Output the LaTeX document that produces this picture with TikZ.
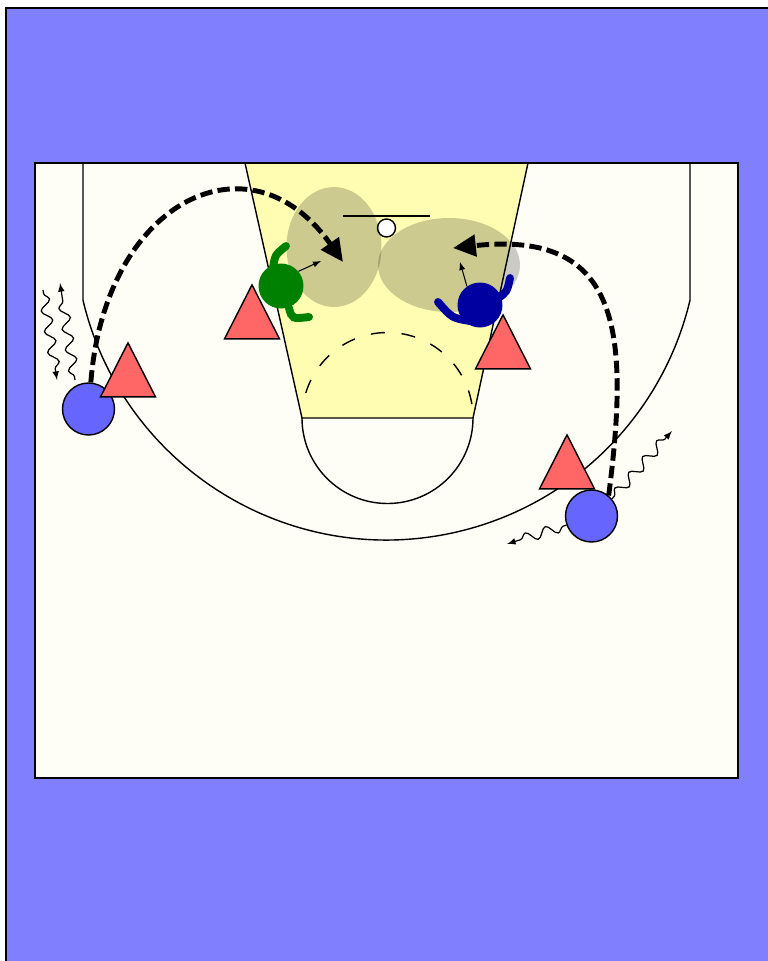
\documentclass[tikz,border=0pt]{standalone}
\usepackage{tikz}
\usetikzlibrary{positioning, arrows, arrows.meta, shapes, decorations.pathmorphing}

\definecolor{floorBlue}{HTML}{8080FF}
\definecolor{courtWhite}{HTML}{FEFEF7}
\definecolor{laneYellow}{HTML}{FFFDB2}
\definecolor{offBlue}{HTML}{6666FF}
\definecolor{defRed}{HTML}{FF6666}
\definecolor{defGreen}{HTML}{008000}
\definecolor{defNavy}{HTML}{0000A0}

\begin{document}
\begin{tikzpicture}[x=0.02cm, y=-0.02cm,
	offense/.style={draw, circle, minimum size=1.04cm, inner sep=0pt, fill=offBlue, line width=0.8pt},
	defense/.style={draw, isosceles triangle, isosceles triangle stretches, shape border rotate=90,
		minimum width=1.1cm, minimum height=1.08cm, inner sep=0pt, anchor=apex, fill=defRed, line width=0.8pt},
	screenZone/.style={ellipse, fill=black, fill opacity=0.2, inner sep=0pt},
	guard/.style={circle, minimum size=0.9cm, inner sep=0pt},
	arm/.style={line width=4.5pt, line cap=round},
	cut/.style={line width=2.8pt, dash pattern=on 7pt off 3pt, -{Triangle[length=13pt, width=12pt]}},
	dribble/.style={-latex, line width=0.7pt, decorate, decoration={snake, amplitude=0.1cm,
		segment length=0.42cm, pre length=2pt, post length=6pt}},
	moveArrow/.style={-latex, line width=0.6pt}]
		\useasboundingbox (0,0) rectangle (768,961);
		
		% floor and court
		\draw[fill=floorBlue, line width=1.2pt] (6,8) rectangle (800,1000);
		\fill[courtWhite] (35,163) rectangle (738,778);
		\draw[fill=laneYellow, line width=0.8pt] (245,163) -- (302,418) -- (473,418) -- (528,163);
		\draw[line width=0.9pt] (35,163) rectangle (738,778);
		
		\draw[line width=0.8pt] (83,163) -- (83,300.3) arc[start angle=166.6, end angle=13.4, radius=312] -- (690,163);
		\draw[line width=0.8pt] (302,418) arc[start angle=180, end angle=0, radius=85.5];
		\draw[line width=0.8pt, dash pattern=on 8pt off 9.5pt] (387.5,418) ++(197:85.5) arc[start angle=197, end angle=360, radius=85.5];
		\draw[line width=1pt] (343,216) -- (430,216);
		
		\node (rim) at (386.5,228) [draw, circle, fill=white, minimum size=0.36cm, inner sep=0pt, line width=0.8pt]{};
		
		\node (screenL) at (334,247) [screenZone, minimum width=1.9cm, minimum height=2.4cm]{};
		\node (screenR) at (449,265) [screenZone, minimum width=2.84cm, minimum height=1.88cm]{};
		
		% players
		\node (o1) at (88.5,409) [offense]{};
		\node (o2) at (591.5,516) [offense]{};
		
		\node (x1) at (128,341) [defense]{};
		\node (x2) at (252,283) [defense]{};
		\node (x3) at (503,313) [defense]{};
		\node (x4) at (567,433) [defense]{};
		
		\node (green) at (281,286) [guard, fill=defGreen]{};
		\draw[arm, defGreen] (273,268) .. controls (275,255) .. (286,246);
		\draw[arm, defGreen] (289,308) .. controls (292,319) .. (309,317);
		
		\node (navy) at (480,305) [guard, fill=defNavy]{};
		\draw[arm, defNavy] (470,321) .. controls (452,318) .. (438,302);
		\draw[arm, defNavy] (497,299) .. controls (507,292) .. (510,278);
		
		\coordinate (greenTo) at (321,261);
		\coordinate (navyTo) at (460,262);
		\draw[moveArrow] (green.40) -- (greenTo);
		\draw[moveArrow] (navy.125) -- (navyTo);
		
		%Links
		\coordinate (cutL) at (343,262);
		\coordinate (cutR) at (453,248);
		\draw[cut] (o1.85) .. controls (105,200) and (250,130) .. (cutL);
		\draw[cut] (o2.50) .. controls (630,330) and (620,230) .. (cutR);
		
		\coordinate (upA) at (75,380);
		\coordinate (upB) at (60,283);
		\coordinate (downA) at (43,290);
		\coordinate (downB) at (57,380);
		\draw[dribble] (upA) -- (upB);
		\draw[dribble] (downA) -- (downB);
		
		\coordinate (dribbleR) at (672,431);
		\coordinate (dribbleL) at (507,544);
		\draw[dribble] (o2.40) -- (dribbleR);
		\draw[dribble] (o2.200) -- (dribbleL);
		
\end{tikzpicture}
\end{document}
